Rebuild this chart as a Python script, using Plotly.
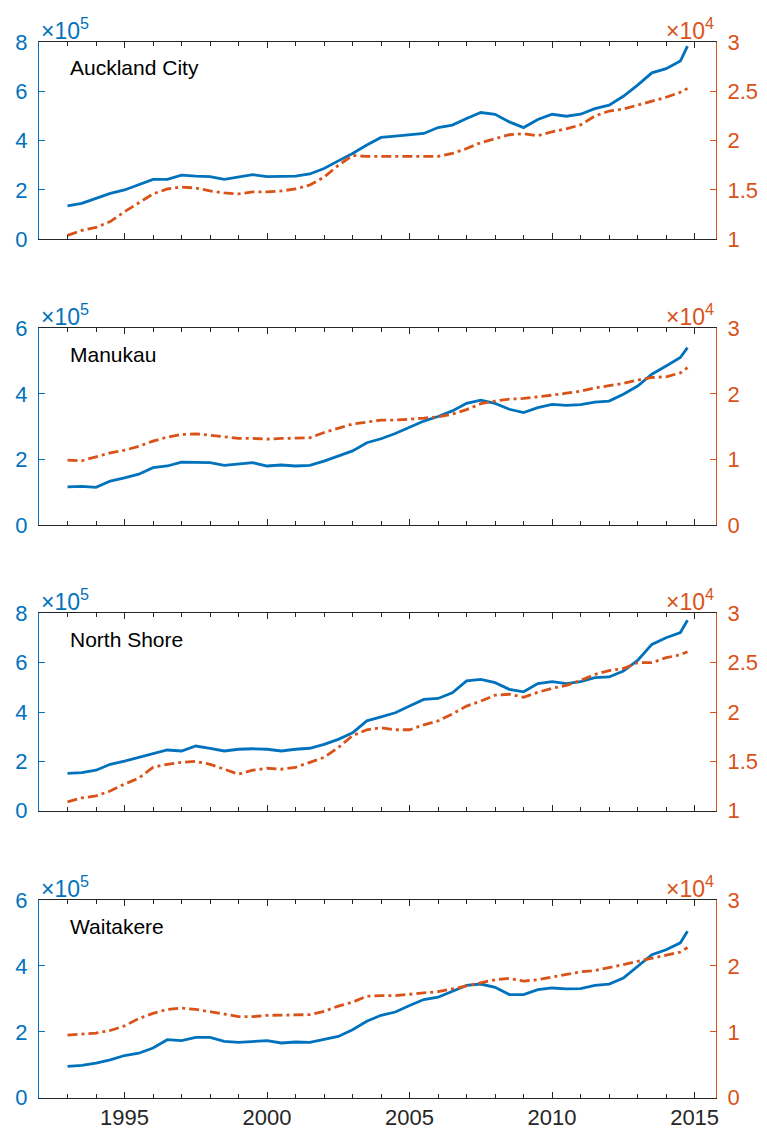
import plotly.graph_objects as go

# ---------------- data ----------------
years = [1993.0, 1993.5, 1994.0, 1994.5, 1995.0, 1995.5, 1996.0, 1996.5, 1997.0, 1997.5,
         1998.0, 1998.5, 1999.0, 1999.5, 2000.0, 2000.5, 2001.0, 2001.5, 2002.0, 2002.5,
         2003.0, 2003.5, 2004.0, 2004.5, 2005.0, 2005.5, 2006.0, 2006.5, 2007.0, 2007.5,
         2008.0, 2008.5, 2009.0, 2009.5, 2010.0, 2010.5, 2011.0, 2011.5, 2012.0, 2012.5,
         2013.0, 2013.5, 2014.0, 2014.5, 2014.75]

# left axis series (units of 1e5)
auckland_left = [1.36, 1.46, 1.66, 1.86, 2.00, 2.20, 2.43, 2.43, 2.60, 2.56,
                 2.54, 2.43, 2.54, 2.62, 2.54, 2.56, 2.56, 2.65, 2.87, 3.18,
                 3.48, 3.82, 4.13, 4.18, 4.25, 4.29, 4.53, 4.63, 4.90, 5.14,
                 5.07, 4.76, 4.53, 4.86, 5.07, 4.99, 5.07, 5.30, 5.44, 5.80,
                 6.25, 6.75, 6.92, 7.23, 7.83]
manukau_left = [1.16, 1.18, 1.15, 1.34, 1.44, 1.55, 1.75, 1.80, 1.92, 1.90,
                1.90, 1.82, 1.85, 1.90, 1.80, 1.83, 1.80, 1.82, 1.95, 2.11,
                2.26, 2.51, 2.63, 2.79, 2.97, 3.17, 3.31, 3.48, 3.71, 3.81,
                3.71, 3.53, 3.43, 3.58, 3.68, 3.65, 3.67, 3.75, 3.78, 3.99,
                4.24, 4.60, 4.85, 5.11, 5.41]
northshore_left = [1.51, 1.54, 1.64, 1.88, 2.01, 2.15, 2.31, 2.46, 2.42, 2.62,
                   2.53, 2.42, 2.49, 2.51, 2.49, 2.42, 2.49, 2.53, 2.69, 2.89,
                   3.16, 3.64, 3.80, 3.97, 4.24, 4.51, 4.55, 4.78, 5.26, 5.32,
                   5.19, 4.92, 4.82, 5.15, 5.23, 5.15, 5.23, 5.39, 5.42, 5.66,
                   6.09, 6.74, 7.01, 7.22, 7.72]
waitakere_left = [0.95, 0.98, 1.05, 1.15, 1.28, 1.35, 1.51, 1.76, 1.73, 1.83,
                  1.83, 1.71, 1.68, 1.71, 1.73, 1.66, 1.69, 1.68, 1.76, 1.86,
                  2.06, 2.32, 2.50, 2.60, 2.80, 2.98, 3.05, 3.23, 3.41, 3.45,
                  3.35, 3.13, 3.13, 3.28, 3.33, 3.30, 3.31, 3.41, 3.45, 3.63,
                  3.99, 4.34, 4.49, 4.70, 5.05]

# right axis series (units of 1e4)
auckland_right = [1.04, 1.09, 1.12, 1.18, 1.28, 1.37, 1.46, 1.51, 1.53, 1.52,
                  1.49, 1.47, 1.46, 1.48, 1.48, 1.49, 1.51, 1.55, 1.63, 1.75,
                  1.85, 1.84, 1.84, 1.84, 1.84, 1.84, 1.84, 1.87, 1.92, 1.98,
                  2.02, 2.06, 2.07, 2.05, 2.09, 2.12, 2.16, 2.25, 2.30, 2.32,
                  2.36, 2.40, 2.44, 2.49, 2.53]
manukau_right = [0.99, 0.98, 1.04, 1.10, 1.14, 1.20, 1.28, 1.34, 1.38, 1.39,
                 1.37, 1.34, 1.32, 1.32, 1.31, 1.32, 1.32, 1.33, 1.41, 1.48,
                 1.54, 1.57, 1.60, 1.60, 1.61, 1.63, 1.65, 1.69, 1.76, 1.85,
                 1.89, 1.92, 1.93, 1.95, 1.98, 2.01, 2.04, 2.09, 2.12, 2.16,
                 2.21, 2.25, 2.26, 2.32, 2.40]
northshore_right = [1.09, 1.13, 1.15, 1.20, 1.27, 1.33, 1.44, 1.47, 1.49, 1.50,
                    1.47, 1.42, 1.37, 1.41, 1.43, 1.42, 1.44, 1.49, 1.54, 1.64,
                    1.76, 1.82, 1.84, 1.82, 1.82, 1.87, 1.91, 1.98, 2.06, 2.11,
                    2.17, 2.18, 2.15, 2.20, 2.24, 2.27, 2.32, 2.38, 2.42, 2.44,
                    2.50, 2.50, 2.55, 2.58, 2.61]
waitakere_right = [0.95, 0.97, 0.98, 1.02, 1.09, 1.20, 1.28, 1.34, 1.36, 1.34,
                   1.31, 1.27, 1.23, 1.23, 1.25, 1.25, 1.25, 1.26, 1.31, 1.39,
                   1.45, 1.54, 1.55, 1.55, 1.57, 1.59, 1.61, 1.65, 1.70, 1.74,
                   1.79, 1.81, 1.77, 1.79, 1.83, 1.86, 1.91, 1.93, 1.97, 2.02,
                   2.07, 2.12, 2.16, 2.21, 2.28]

panel_names = ["Auckland City", "Manukau", "North Shore", "Waitakere"]
left_ticks = [[0, 2, 4, 6, 8], [0, 2, 4, 6], [0, 2, 4, 6, 8], [0, 2, 4, 6]]
right_ticks = [[1, 1.5, 2, 2.5, 3], [0, 1, 2, 3], [1, 1.5, 2, 2.5, 3], [0, 1, 2, 3]]
right_tick_text = [["1", "1.5", "2", "2.5", "3"], ["0", "1", "2", "3"],
                   ["1", "1.5", "2", "2.5", "3"], ["0", "1", "2", "3"]]
left_exp = "×10<sup>5</sup>"
right_exp = "×10<sup>4</sup>"

left_series = [auckland_left, manukau_left, northshore_left, waitakere_left]
right_series = [auckland_right, manukau_right, northshore_right, waitakere_right]

# ---------------- style / layout ----------------
BLUE = "#0072BD"
ORANGE = "#D95319"
AXC = "#262626"
FONT = "Liberation Sans, Arial, Helvetica, sans-serif"
W, H = 767, 1137
ML, MR, MT, MB = 39, 51, 42, 39
panel_px = [(41.7, 239.3), (328.3, 525.0), (613.3, 810.7), (900.0, 1097.7)]
plot_h = H - MT - MB
y_bottom_px = H - MB

fig = go.Figure()
layout = dict(
    width=W, height=H,
    margin=dict(l=ML, r=MR, t=MT, b=MB, pad=0, autoexpand=False),
    paper_bgcolor="white", plot_bgcolor="white",
    showlegend=False,
    font=dict(family=FONT, size=22, color=AXC),
    annotations=[],
)

for i in range(4):
    k = i + 1
    xname = "x" if k == 1 else f"x{k}"
    xkey = "xaxis" if k == 1 else f"xaxis{k}"
    yl = 2 * i + 1
    yr = 2 * i + 2
    ylname = "y" if yl == 1 else f"y{yl}"
    ylkey = "yaxis" if yl == 1 else f"yaxis{yl}"
    yrname = f"y{yr}"
    yrkey = f"yaxis{yr}"
    top, bot = panel_px[i]
    dom = [(y_bottom_px - bot) / plot_h, (y_bottom_px - top) / plot_h]
    dom = [max(0.0, min(1.0, d)) for d in dom]

    fig.add_trace(go.Scatter(x=years, y=left_series[i], xaxis=xname, yaxis=ylname,
                             mode="lines", line=dict(color=BLUE, width=2.8),
                             hoverinfo="skip"))
    fig.add_trace(go.Scatter(x=years, y=right_series[i], xaxis=xname, yaxis=yrname,
                             mode="lines", hoverinfo="skip",
                             line=dict(color=ORANGE, width=2.8, dash="10px,4px,3px,4px")))

    layout[xkey] = dict(
        domain=[0, 1], anchor=ylname, range=[1992, 2015.75], automargin=False,
        showline=True, linecolor=AXC, linewidth=1, mirror="ticks",
        ticks="inside", ticklen=6, tickcolor=AXC, tickwidth=1,
        tick0=0, dtick=5, showticklabels=(k == 4),
        tickfont=dict(size=22, color=AXC, family=FONT),
        minor=dict(ticks="inside", ticklen=4, dtick=1, tick0=0, tickcolor=AXC, tickwidth=1),
        showgrid=False, zeroline=False,
    )
    lt = left_ticks[i]
    layout[ylkey] = dict(
        domain=dom, anchor=xname, range=[lt[0], lt[-1]], automargin=False,
        tickmode="array", tickvals=lt, ticktext=[str(v) for v in lt],
        showline=True, linecolor=BLUE, linewidth=1, mirror=False,
        ticks="inside", ticklen=6, tickcolor=BLUE, tickwidth=1,
        tickfont=dict(size=22, color=BLUE, family=FONT),
        ticklabelstandoff=6,
        showgrid=False, zeroline=False,
    )
    rt = right_ticks[i]
    layout[yrkey] = dict(
        overlaying=ylname, side="right", anchor=xname, range=[rt[0], rt[-1]],
        automargin=False,
        tickmode="array", tickvals=rt, ticktext=right_tick_text[i],
        showline=True, linecolor=ORANGE, linewidth=1,
        ticks="inside", ticklen=6, tickcolor=ORANGE, tickwidth=1,
        tickfont=dict(size=22, color=ORANGE, family=FONT),
        ticklabelstandoff=6,
        showgrid=False, zeroline=False,
    )

    ph = bot - top
    layout["annotations"] += [
        dict(text=panel_names[i], xref=f"{xname} domain", yref=f"{ylname} domain",
             x=(67.7 - ML) / (W - ML - MR), y=1 - 26 / ph, xanchor="left", yanchor="middle",
             showarrow=False, font=dict(size=21, color="black", family=FONT)),
        dict(text=left_exp, xref=f"{xname} domain", yref=f"{ylname} domain",
             x=0, y=1, xanchor="left", yanchor="bottom", xshift=0, yshift=-4,
             showarrow=False, font=dict(size=23, color=BLUE, family=FONT)),
        dict(text=right_exp, xref=f"{xname} domain", yref=f"{ylname} domain",
             x=1, y=1, xanchor="right", yanchor="bottom", xshift=0, yshift=-4,
             showarrow=False, font=dict(size=23, color=ORANGE, family=FONT)),
    ]

fig.update_layout(**layout)
fig.write_html(
    "out.html",
    config={"displayModeBar": False, "staticPlot": True},
    post_script="document.body.style.margin='0px';document.body.style.padding='0px';",
)
